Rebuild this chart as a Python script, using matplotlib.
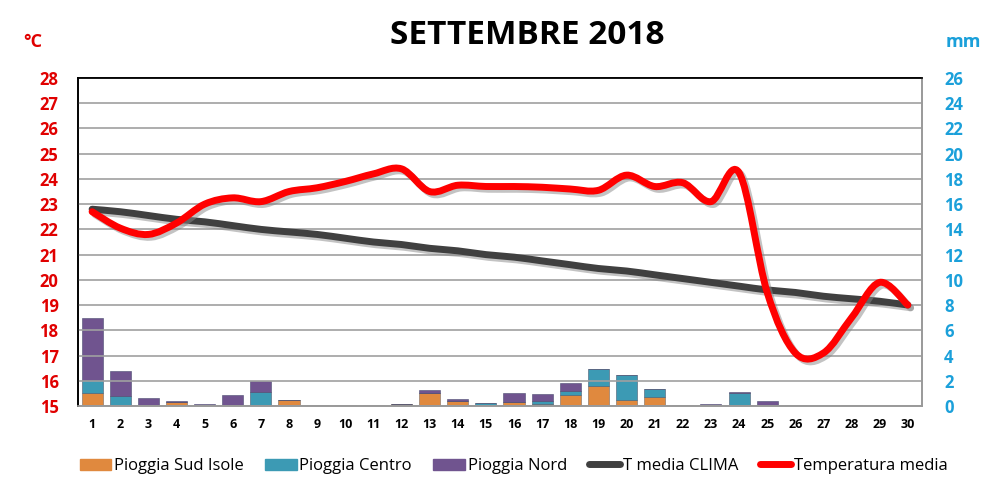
import numpy as np
import matplotlib
matplotlib.use("Agg")
import matplotlib.pyplot as plt
from matplotlib.path import Path
from matplotlib.patches import PathPatch
from matplotlib.lines import Line2D
from matplotlib.patches import Patch
import matplotlib.patheffects as pe

plt.rcParams['font.family'] = ['Open Sans', 'DejaVu Sans']

days = list(range(1, 31))

# rain (mm), stacked: Sud Isole, Centro, Nord
rain_sud = [1.05, 0.0, 0.0, 0.3, 0.0, 0.0, 0.1, 0.45, 0.0, 0.0,
            0.05, 0.12, 1.0, 0.42, 0.0, 0.34, 0.13, 0.87, 1.6, 0.48,
            0.74, 0.0, 0.0, 0.1, 0.1, 0.1, 0.0, 0.1, 0.0, 0.0]
rain_centro = [1.0, 0.8, 0.0, 0.0, 0.0, 0.0, 1.0, 0.0, 0.1, 0.08,
               0.0, 0.0, 0.0, 0.0, 0.2, 0.0, 0.27, 0.35, 1.3, 2.0,
               0.6, 0.0, 0.0, 0.9, 0.0, 0.0, 0.0, 0.0, 0.0, 0.0]
rain_nord = [4.95, 2.0, 0.65, 0.1, 0.12, 0.87, 0.9, 0.05, 0.0, 0.0,
             0.0, 0.0, 0.27, 0.16, 0.0, 0.72, 0.58, 0.6, 0.05, 0.0,
             0.0, 0.1, 0.12, 0.1, 0.3, 0.0, 0.0, 0.0, 0.0, 0.0]

# temperatures (°C)
t_clima = [22.8, 22.7, 22.55, 22.4, 22.3, 22.15, 22.0, 21.9, 21.8, 21.65,
           21.5, 21.4, 21.25, 21.15, 21.0, 20.9, 20.75, 20.6, 20.45, 20.35,
           20.2, 20.05, 19.9, 19.75, 19.6, 19.5, 19.35, 19.25, 19.15, 19.0]
t_media = [22.7, 22.05, 21.8, 22.25, 23.0, 23.25, 23.1, 23.5, 23.65, 23.9,
           24.2, 24.4, 23.5, 23.75, 23.7, 23.7, 23.67, 23.6, 23.55, 24.15,
           23.7, 23.85, 23.1, 24.25, 19.5, 17.1, 17.1, 18.5, 19.9, 19.0]

c_sud = '#E0893E'
c_centro = '#3C9AB4'
c_nord = '#70548F'
c_clima = '#404040'
c_temp = '#FF0000'


def smooth_path(x, y):
    # Excel-like smoothed line: cubic Bezier segments through the points
    x = np.asarray(x, float)
    y = np.asarray(y, float)
    n = len(x)
    verts = [(x[0], y[0])]
    codes = [Path.MOVETO]
    for i in range(n - 1):
        i0 = max(i - 1, 0)
        i3 = min(i + 2, n - 1)
        c1 = (x[i] + (x[i + 1] - x[i0]) / 6, y[i] + (y[i + 1] - y[i0]) / 6)
        c2 = (x[i + 1] - (x[i3] - x[i]) / 6, y[i + 1] - (y[i3] - y[i]) / 6)
        verts += [c1, c2, (x[i + 1], y[i + 1])]
        codes += [Path.CURVE4] * 3
    return Path(verts, codes)


fig = plt.figure(figsize=(10.07, 4.96), dpi=100)
ax = fig.add_axes([0.0775, 0.1815, 0.838, 0.6612])
ax2 = ax.twinx()

# bars on the mm axis
w = 0.75
b1 = np.array(rain_sud)
b2 = b1 + np.array(rain_centro)
ax2.bar(days, rain_sud, w, color=c_sud, edgecolor='#7a6a60', linewidth=0.4)
ax2.bar(days, rain_centro, w, bottom=b1, color=c_centro, edgecolor='#4a5a70', linewidth=0.4)
ax2.bar(days, rain_nord, w, bottom=b2, color=c_nord, edgecolor='#4a4a70', linewidth=0.4)
ax2.set_ylim(0, 26)
ax2.set_yticks(range(0, 27, 2))

# temperature lines on the °C axis
shadow = [pe.SimpleLineShadow(offset=(2, -2), shadow_color='#888888', alpha=0.5),
          pe.Normal()]
for vals, col in [(t_clima, c_clima), (t_media, c_temp)]:
    patch = PathPatch(smooth_path(days, vals), facecolor='none', edgecolor=col,
                      linewidth=5, capstyle='round', joinstyle='round', zorder=3)
    patch.set_path_effects(shadow)
    ax.add_patch(patch)

ax.set_zorder(ax2.get_zorder() + 1)
ax.patch.set_visible(False)

ax.set_xlim(0.5, 30.5)
ax.set_ylim(15, 28)
ax.set_yticks(range(15, 29))
ax.set_xticks(days)
ax.grid(axis='y', color='#A0A0A0', linewidth=1.2)
ax.set_axisbelow(True)

ax.tick_params(axis='y', length=0, pad=14, labelsize=12, labelcolor='#E00000')
ax.tick_params(axis='x', length=0, pad=9, labelsize=9)
ax2.tick_params(axis='y', length=0, pad=16, labelsize=12, labelcolor='#1BA0DA')
for lab in ax.get_yticklabels() + ax.get_xticklabels() + ax2.get_yticklabels():
    lab.set_fontweight('bold')

for a in (ax, ax2):
    a.spines['left'].set_color('black')
    a.spines['top'].set_color('black')
    a.spines['right'].set_color('#999999')
    a.spines['bottom'].set_color('#999999')
    for s in a.spines.values():
        s.set_linewidth(1.2)

fig.text(0.524, 0.929, 'SETTEMBRE 2018', ha='center', va='center',
         fontsize=24, fontweight='bold')
fig.text(0.033, 0.915, '°C', ha='center', va='center', fontsize=13,
         fontweight='bold', color='#E00000')
fig.text(0.957, 0.915, 'mm', ha='center', va='center', fontsize=13,
         fontweight='bold', color='#1BA0DA')

handles = [Patch(color=c_sud), Patch(color=c_centro), Patch(color=c_nord),
           Line2D([], [], color=c_clima, linewidth=5, solid_capstyle='round'),
           Line2D([], [], color=c_temp, linewidth=5, solid_capstyle='round')]
labels = ['Pioggia Sud Isole', 'Pioggia Centro', 'Pioggia Nord',
          'T media CLIMA', 'Temperatura media']
fig.legend(handles, labels, loc='center', bbox_to_anchor=(0.51, 0.06), ncol=5,
           frameon=False, fontsize=12, handlelength=1.9, handletextpad=0.15,
           columnspacing=1.3)

fig.savefig('out.png', dpi=100)
